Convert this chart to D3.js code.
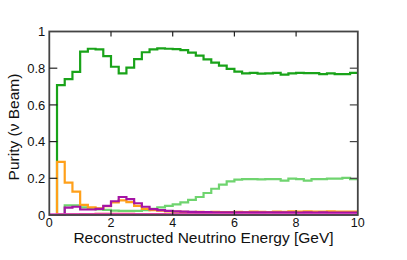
<!DOCTYPE html>
<html>
<head>
<meta charset="utf-8">
<script src="https://cdn.jsdelivr.net/npm/d3@7"></script>
<style>
  body { margin: 0; background: #fff; }
  svg { display: block; font-family: "Liberation Sans", Arial, sans-serif; }
</style>
</head>
<body>
<svg id="chart"></svg>
<script>
// bin lower edges, 0.25 GeV wide, 0 .. 9.75
const binEdges = d3.range(0, 10, 0.25);

// purity per energy bin
const darkGreen = [0, 0.708, 0.74, 0.78, 0.89, 0.906, 0.903, 0.866, 0.808, 0.772,
  0.803, 0.85, 0.887, 0.903, 0.908, 0.906, 0.904, 0.899, 0.885, 0.868,
  0.848, 0.83, 0.814, 0.796, 0.781, 0.772, 0.775, 0.77, 0.772, 0.775,
  0.765, 0.772, 0.775, 0.773, 0.773, 0.768, 0.772, 0.768, 0.768, 0.775];
const lightGreen = [0, 0, 0.052, 0.052, 0.042, 0.036, 0.03, 0.028, 0.024, 0.022,
  0.022, 0.023, 0.026, 0.033, 0.042, 0.05, 0.058, 0.069, 0.082, 0.098,
  0.12, 0.143, 0.165, 0.183, 0.193, 0.196, 0.195, 0.194, 0.196, 0.195,
  0.187, 0.198, 0.196, 0.187, 0.196, 0.196, 0.198, 0.198, 0.202, 0.196];
const orange = [0, 0.29, 0.176, 0.127, 0.055, 0.042, 0.036, 0.048, 0.068, 0.08,
  0.07, 0.05, 0.033, 0.027, 0.024, 0.02, 0.018, 0.017, 0.016, 0.017,
  0.016, 0.017, 0.016, 0.016, 0.017, 0.016, 0.018, 0.017, 0.016, 0.018,
  0.017, 0.02, 0.018, 0.02, 0.019, 0.018, 0.02, 0.019, 0.018, 0.019];
const purple = [0, 0, 0.04, 0.045, 0.03, 0.03, 0.033, 0.05, 0.075, 0.098,
  0.086, 0.064, 0.045, 0.032, 0.027, 0.022, 0.02, 0.018, 0.017, 0.016,
  0.016, 0.015, 0.015, 0.015, 0.014, 0.015, 0.014, 0.014, 0.015, 0.014,
  0.014, 0.014, 0.013, 0.014, 0.013, 0.014, 0.013, 0.013, 0.013, 0.013];
const red = [0, 0.003, 0.004, 0.004, 0.005, 0.005, 0.006, 0.006, 0.006, 0.006,
  0.006, 0.005, 0.005, 0.005, 0.005, 0.004, 0.004, 0.004, 0.004, 0.004,
  0.004, 0.004, 0.004, 0.004, 0.004, 0.004, 0.004, 0.004, 0.004, 0.004,
  0.004, 0.004, 0.004, 0.004, 0.004, 0.004, 0.004, 0.004, 0.004, 0.004];
const magenta = [0.003, 0.003, 0.003, 0.003, 0.003, 0.003, 0.003, 0.003, 0.003, 0.003,
  0.003, 0.003, 0.003, 0.003, 0.003, 0.003, 0.003, 0.003, 0.003, 0.003,
  0.003, 0.003, 0.003, 0.003, 0.003, 0.003, 0.003, 0.003, 0.003, 0.003,
  0.003, 0.003, 0.003, 0.003, 0.003, 0.003, 0.003, 0.003, 0.003, 0.003];

const xTicks = [0, 2, 4, 6, 8, 10];
const yTicks = [0, 0.2, 0.4, 0.6, 0.8, 1];

const width = 407;
const height = 260;
const margin = { left: 49.3, right: 49.2, top: 31.5, bottom: 45 };

const svg = d3.select('svg#chart').attr('width', width).attr('height', height);

const x = d3.scaleLinear().domain([0, 10]).range([margin.left, width - margin.right]);
const y = d3.scaleLinear().domain([0, 1]).range([height - margin.bottom, margin.top]);

// series drawn bottom to top
const series = [
  { values: darkGreen, color: '#19a319' },
  { values: lightGreen, color: '#6fd46f' },
  { values: red, color: '#e8383a' },
  { values: orange, color: '#ffa01a' },
  { values: purple, color: '#a514a5' },
  { values: magenta, color: '#dd44cc' },
];

const line = d3.line()
  .x(d => x(d[0]))
  .y(d => y(d[1]))
  .curve(d3.curveStepAfter);

svg.append('g')
  .selectAll('path')
  .data(series)
  .enter().append('path')
  .attr('fill', 'none')
  .attr('stroke', d => d.color)
  .attr('stroke-width', 2.2)
  .attr('d', d => {
    const pts = d.values.map((v, i) => [binEdges[i], v]);
    pts.push([10, d.values[d.values.length - 1]]);
    return line(pts);
  });

// frame
svg.append('rect')
  .attr('x', x(0)).attr('y', y(1))
  .attr('width', x(10) - x(0)).attr('height', y(0) - y(1))
  .attr('fill', 'none').attr('stroke', '#444').attr('stroke-width', 1.8);

// ticks, pointing inward on all four sides
const inner = xTicks.slice(1, -1);
svg.append('g').selectAll('line.bt').data(inner).enter().append('line')
  .attr('x1', d => x(d)).attr('x2', d => x(d))
  .attr('y1', y(0)).attr('y2', y(0) - 5)
  .attr('stroke', '#222').attr('stroke-width', 1.2);
svg.append('g').selectAll('line.tt').data(inner).enter().append('line')
  .attr('x1', d => x(d)).attr('x2', d => x(d))
  .attr('y1', y(1)).attr('y2', y(1) + 5)
  .attr('stroke', '#222').attr('stroke-width', 1.2);
const yInner = yTicks.slice(1, -1);
svg.append('g').selectAll('line.lt').data(yInner).enter().append('line')
  .attr('x1', x(0)).attr('x2', x(0) + 8)
  .attr('y1', d => y(d)).attr('y2', d => y(d))
  .attr('stroke', '#222').attr('stroke-width', 1.2);
svg.append('g').selectAll('line.rt').data(yInner).enter().append('line')
  .attr('x1', x(10)).attr('x2', x(10) - 8)
  .attr('y1', d => y(d)).attr('y2', d => y(d))
  .attr('stroke', '#444').attr('stroke-width', 1.2);

// tick labels
svg.append('g').selectAll('text').data(xTicks).enter().append('text')
  .attr('x', d => x(d)).attr('y', y(0) + 11.5)
  .attr('text-anchor', 'middle')
  .attr('font-size', 12.5)
  .attr('fill', '#111')
  .text(d => d);

svg.append('g').selectAll('text').data(yTicks).enter().append('text')
  .attr('x', x(0) - 4).attr('y', d => y(d))
  .attr('dy', '0.36em')
  .attr('text-anchor', 'end')
  .attr('font-size', 13)
  .attr('fill', '#111')
  .text(d => d);

// axis titles
svg.append('text')
  .attr('x', 203.5).attr('y', 243.3)
  .attr('text-anchor', 'middle')
  .attr('font-size', 15.5)
  .attr('fill', '#111')
  .text('Reconstructed Neutrino Energy [GeV]');

svg.append('text')
  .attr('transform', 'translate(18.5,127) rotate(-90)')
  .attr('text-anchor', 'middle')
  .attr('font-size', 15.5)
  .attr('fill', '#111')
  .text('Purity (ν Beam)');
</script>
</body>
</html>
